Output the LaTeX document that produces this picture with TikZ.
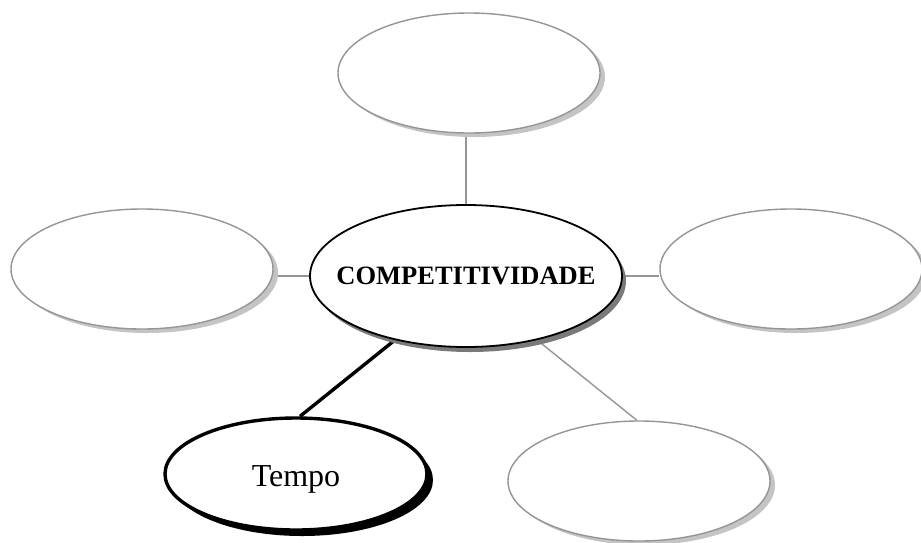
\documentclass[tikz,border=0pt]{standalone}
\usepackage{fontspec}
\setmainfont{Liberation Serif}
\usetikzlibrary{shapes.geometric,shadows,backgrounds}
\definecolor{rimgray}{HTML}{959595}
\definecolor{softshade}{HTML}{C4C4C4}
\definecolor{darkshade}{HTML}{7A7A7A}
\tikzset{
  oval/.style={ellipse, inner sep=0pt, fill=white},
  emptyoval/.style={oval, draw=rimgray, line width=1.4pt,
    minimum width=262pt, minimum height=120pt,
    drop shadow={shadow xshift=5pt, shadow yshift=-4pt, fill=softshade, opacity=1}},
  hubov/.style={oval, draw=black, line width=1.8pt,
    minimum width=312pt, minimum height=142pt,
    drop shadow={shadow xshift=4pt, shadow yshift=-5pt, fill=darkshade, opacity=1}},
  hubtext/.style={font=\fontsize{26.5}{30}\selectfont\bfseries, inner sep=0pt},
  boldov/.style={oval, draw=black, line width=3.4pt,
    minimum width=262pt, minimum height=112pt,
    drop shadow={shadow xshift=6pt, shadow yshift=-6pt, fill=black, opacity=1}},
  boldtext/.style={font=\fontsize{32}{36}\selectfont, inner sep=0pt},
  thinlink/.style={draw=rimgray, line width=1.4pt},
  thicklink/.style={draw=black, line width=3.4pt}
}
\begin{document}
\begin{tikzpicture}[x=1pt, y=-1pt]
  \useasboundingbox (0,0) rectangle (921,542);

  % central concept and the five satellites
  \node[hubov]     (main)  at (466,276) {};
  \node[hubtext]   (mainlabel) at (main.center) {COMPETITIVIDADE};
  \node[emptyoval] (top)   at (469,73)  {};
  \node[emptyoval] (left)  at (142,269) {};
  \node[emptyoval] (right) at (791,269) {};
  \node[emptyoval] (br)    at (639,481) {};
  \node[boldov]    (tempo) at (296,474) {};
  \node[boldtext]  (tempolabel) at ([yshift=-5pt]tempo.center) {Tempo};

  % connectors, kept behind the ovals
  \begin{scope}[on background layer]
    \draw[thinlink] (main.north) -- (main.north |- top.south);
    \draw[thinlink] (main.west) -- (main.west -| left.east);
    \draw[thinlink] (main.east) -- (main.east -| right.west);
    \draw[thinlink] (main.318) -- (br.92);
    \draw[thicklink] (main.222) -- (tempo.86);
  \end{scope}
\end{tikzpicture}
\end{document}
